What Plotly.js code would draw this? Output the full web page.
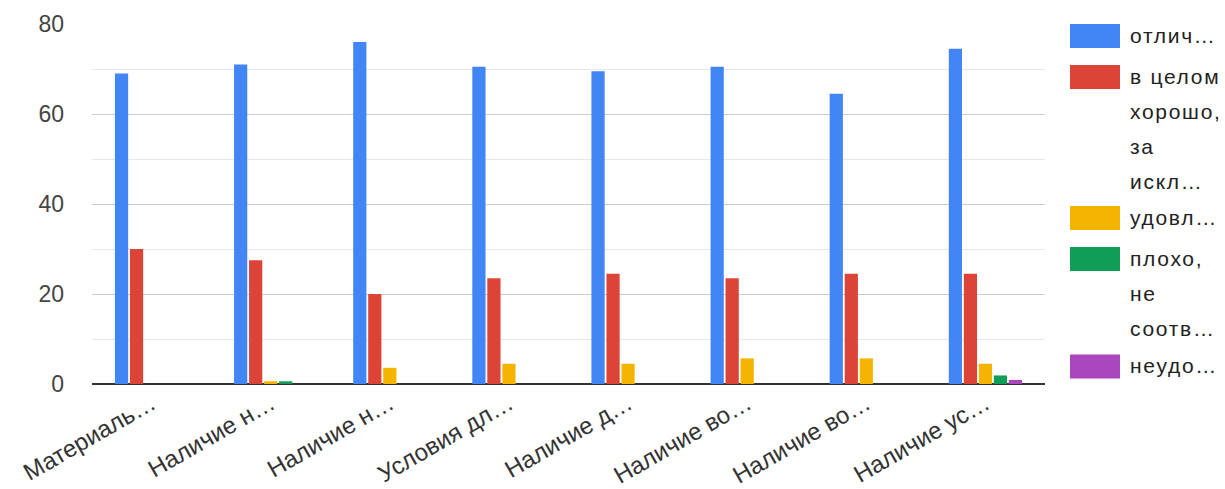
<!DOCTYPE html>
<html>
<head>
<meta charset="utf-8">
<script src="https://cdn.plot.ly/plotly-3.0.1.min.js"></script>
<style>
html, body { margin: 0; padding: 0; background: #fff; }
#chart { width: 1225px; height: 489px; }
.annotation-text { letter-spacing: 1.7px; }
</style>
</head>
<body>
<div id="chart"></div>
<script>
// Category tick labels (truncated as in the source chart)
const categories = ['Материаль…', 'Наличие н…', 'Наличие н…', 'Условия дл…', 'Наличие д…', 'Наличие во…', 'Наличие во…', 'Наличие ус…'];

// Series names (legend, wrapped lines)
const seriesNames = [
  ['отлич…'],
  ['в целом', 'хорошо,', 'за', 'искл…'],
  ['удовл…'],
  ['плохо,', 'не', 'соотв…'],
  ['неудо…']
];

// Series values
const excellent   = [69, 71, 76, 70.5, 69.5, 70.5, 64.5, 74.5];
const mostlyGood  = [30, 27.5, 20, 23.5, 24.5, 23.5, 24.5, 24.5];
const satisfactory= [0, 0.6, 3.6, 4.5, 4.5, 5.7, 5.7, 4.5];
const poor        = [0, 0.6, 0, 0, 0, 0, 0, 1.9];
const unsatisf    = [0, 0, 0, 0, 0, 0, 0, 0.9];

// Y axis ticks
const yTickVals = [0, 20, 40, 60, 80];
const yTickText = ['0', '20', '40', '60', '80'];

const colors = ['#4285F4', '#DB4437', '#F4B400', '#0F9D58', '#AB47BC'];
const seriesValues = [excellent, mostlyGood, satisfactory, poor, unsatisf];

const xPos = categories.map((_, i) => i);

const traces = seriesValues.map((vals, i) => ({
  type: 'bar',
  x: xPos,
  y: vals,
  name: seriesNames[i].join(' '),
  marker: { color: colors[i], line: { width: 0 } },
  hoverinfo: 'none'
}));

// Plot area geometry (pixels)
const W = 1225, H = 489;
const mL = 92, mR = 180, mT = 24, mB = 105;
const plotW = W - mL - mR, plotH = H - mT - mB;
const px2x = px => (px - mL) / plotW;
const py2y = py => (H - mB - py) / plotH;

// Custom legend layout (pixel positions)
const legendSwatchCenters = [36, 77, 218, 259, 366.5];
const legendLineStep = 35.3;
const shapes = [];
const annotations = [];
seriesNames.forEach((lines, i) => {
  const cy = legendSwatchCenters[i];
  shapes.push({
    type: 'rect', xref: 'paper', yref: 'paper',
    x0: px2x(1070), x1: px2x(1120),
    y0: py2y(cy + 12), y1: py2y(cy - 12),
    fillcolor: colors[i], line: { width: 0 }
  });
  lines.forEach((t, k) => {
    annotations.push({
      xref: 'paper', yref: 'paper',
      x: px2x(1128), y: py2y(cy + k * legendLineStep - 1),
      xanchor: 'left', yanchor: 'middle',
      text: t, showarrow: false,
      font: { family: 'Liberation Sans, Arial, sans-serif', size: 21, color: '#222' }
    });
  });
});

const layout = {
  width: W, height: H,
  margin: { l: mL, r: mR, t: mT, b: mB, pad: 0 },
  paper_bgcolor: '#fff', plot_bgcolor: '#fff',
  barmode: 'group',
  bargap: 0.37,
  bargroupgap: 0.12,
  showlegend: false,
  font: { family: 'Liberation Sans, Arial, sans-serif', color: '#444' },
  xaxis: {
    tickvals: xPos,
    ticktext: categories,
    tickangle: -30,
    tickfont: { size: 24, color: '#333' },
    range: [-0.5, categories.length - 0.5],
    showgrid: false, zeroline: false, showline: false,
    ticks: ''
  },
  yaxis: {
    range: [0, 80],
    tickvals: yTickVals,
    ticktext: yTickText,
    tickfont: { size: 23, color: '#444' },
    ticklabelstandoff: 27,
    showgrid: true, gridcolor: '#cccccc', gridwidth: 1,
    minor: { dtick: 10, showgrid: true, gridcolor: '#e8e8e8', gridwidth: 1 },
    zeroline: true, zerolinecolor: '#333', zerolinewidth: 1.5,
    showline: false, ticks: ''
  },
  shapes: shapes,
  annotations: annotations
};

Plotly.newPlot('chart', traces, layout, { displayModeBar: false, staticPlot: true });
</script>
</body>
</html>
